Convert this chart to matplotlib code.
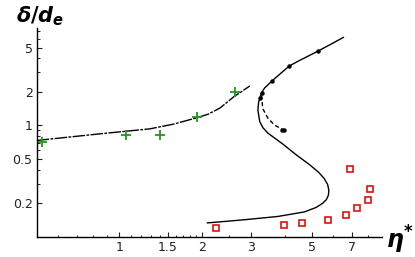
import matplotlib
matplotlib.use("Agg")
import matplotlib.pyplot as plt
from matplotlib.ticker import FixedLocator, NullFormatter, LogLocator

plt.rcParams["mathtext.fontset"] = "custom"
plt.rcParams["mathtext.it"] = "DejaVu Sans:italic:bold"
plt.rcParams["mathtext.rm"] = "DejaVu Sans:bold"

# lower branch (dash-dot curve)
low_x = [0.50, 0.85, 1.29, 1.57, 1.91, 2.10, 2.32, 2.63, 2.74, 2.98]
low_y = [0.732, 0.840, 0.931, 1.025, 1.17, 1.26, 1.43, 1.84, 1.96, 2.26]

# S-shaped solid curve
s_x = [6.53, 5.96, 5.26, 4.52, 4.15, 3.59, 3.37, 3.28, 3.21, 3.19, 3.24, 3.33,
       3.47, 3.93, 4.39, 4.91, 5.30, 5.55, 5.72, 5.78, 5.76, 5.66, 5.48, 5.19,
       4.71, 3.77, 2.85, 2.09]
s_y = [6.18, 5.46, 4.63, 3.83, 3.42, 2.51, 2.16, 1.94, 1.62, 1.37, 1.08, 0.95,
       0.852, 0.68, 0.546, 0.445, 0.380, 0.335, 0.295, 0.262, 0.236, 0.215,
       0.199, 0.183, 0.167, 0.152, 0.142, 0.133]

# dashed branch
d_x = [3.29, 3.32, 3.47, 3.66, 3.98]
d_y = [1.87, 1.42, 1.16, 1.01, 0.90]

# small black dots
dot_x = [5.26, 4.15, 3.59, 3.30, 3.25, 3.92, 3.98]
dot_y = [4.63, 3.42, 2.51, 1.96, 1.75, 0.91, 0.90]

# green crosses
g_x = [0.524, 1.06, 1.40, 1.91, 2.63]
g_y = [0.709, 0.828, 0.812, 1.18, 1.98]

# red squares
r_x = [2.24, 3.98, 4.60, 5.72, 6.70, 7.33, 8.03, 8.19, 6.91]
r_y = [0.119, 0.128, 0.132, 0.141, 0.156, 0.180, 0.213, 0.270, 0.402]

x_ticks = [1, 1.5, 2, 3, 5, 7]
x_labels = ["1", "1.5", "2", "3", "5", "7"]
x_minor = [0.6, 0.7, 0.8, 0.9, 1.1, 1.2, 1.3, 1.4, 1.6, 1.7, 1.8, 1.9, 2.5, 4, 6, 8]
y_ticks = [0.2, 0.5, 1, 2, 5]
y_labels = ["0.2", "0.5", "1", "2", "5"]

fig = plt.figure(figsize=(4.15, 2.57), dpi=100)
ax = fig.add_axes([36.7/415, 20.3/257, 345/415, 208.7/257])
ax.set_xscale("log")
ax.set_yscale("log")
ax.set_xlim(0.5, 9.0)
ax.set_ylim(0.1, 7.5)

ax.plot(low_x, low_y, color="black", lw=1.0, ls=(0, (9, 1, 2, 1)))
ax.plot(s_x, s_y, color="black", lw=1.0)
ax.plot(d_x, d_y, color="black", lw=1.0, ls=(0, (3, 2)))
ax.plot(dot_x, dot_y, "o", color="black", ms=2.2)
ax.plot(g_x, g_y, "+", color="#1f9a1f", ms=7, mew=1.3)
ax.plot(r_x, r_y, "s", mfc="none", mec="#e01010", ms=5, mew=1.2)

for s in ["top", "right"]:
    ax.spines[s].set_visible(False)
for s in ["left", "bottom"]:
    ax.spines[s].set_linewidth(1.0)

ax.xaxis.set_major_locator(FixedLocator(x_ticks))
ax.set_xticklabels(x_labels)
ax.xaxis.set_minor_locator(FixedLocator(x_minor))
ax.xaxis.set_minor_formatter(NullFormatter())
ax.yaxis.set_major_locator(FixedLocator(y_ticks))
ax.set_yticklabels(y_labels)
ax.yaxis.set_minor_locator(LogLocator(base=10, subs=range(2, 10)))
ax.yaxis.set_minor_formatter(NullFormatter())

ax.tick_params(which="major", direction="in", length=3.5, width=0.8,
               labelsize=9, colors="#222222", pad=3)
ax.tick_params(which="minor", direction="in", length=1.8, width=0.6)

fig.text(0.096, 0.938, r"$\delta/d_e$", fontsize=15, ha="center", va="center")
fig.text(0.964, 0.066, r"$\eta^{*}$", fontsize=17, ha="center", va="center")

fig.savefig("out.png", dpi=100)
